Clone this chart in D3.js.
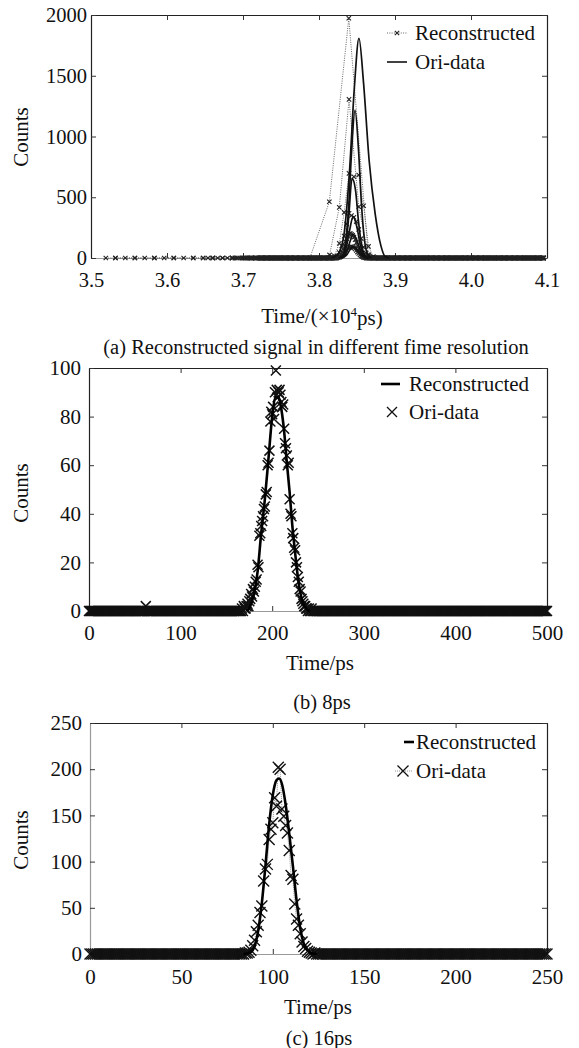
<!DOCTYPE html>
<html lang="en">

<head>
  <meta charset="UTF-8" />
  <title>Reconstructed signal</title>
  <script src="https://d3js.org/d3.v7.min.js"></script>
  <style>
    body {
      margin: 0;
      background: #fff;
    }

    svg text {
      font-family: "Liberation Serif", "Times New Roman", serif;
      fill: #111;
    }
  </style>
</head>

<body>
  <script>
    //fonts
    const serif = '"Liberation Serif", "Times New Roman", serif';

    // ---------- panel (a): time in 1e4 ps, several time resolutions ----------
    const aXTicks = [3.5, 3.6, 3.7, 3.8, 3.9, 4.0, 4.1];
    const aYTicks = [0, 500, 1000, 1500, 2000];
    const aResolutions = [256, 128, 64, 32, 16, 8]; // ps per bin
    const aBinStart = [3.5320, 3.5195, 3.6475, 3.6859, 3.7003, 3.7203]; // first bin of each resolution
    const aBinEnd = 4.0955;

    // reconstructed (dotted line with x), only the part around the peak; other bins are 0
    const aRec256 = [[3.7880, 0], [3.8136, 463], [3.8392, 1973], [3.8648, 28], [3.8904, 0]];
    const aRec128 = [[3.8011, 0], [3.8139, 25], [3.8267, 417], [3.8395, 1306], [3.8523, 422], [3.8651, 22], [3.8779, 0]];
    const aRec64 = [[3.8139, 0], [3.8203, 18], [3.8267, 120], [3.8331, 375], [3.8395, 697], [3.8459, 669],
    [3.8523, 683], [3.8587, 430], [3.8651, 95], [3.8715, 12], [3.8779, 0]];
    const aRec32 = [[3.8171, 0], [3.8203, 4], [3.8235, 15], [3.8267, 45], [3.8299, 100], [3.8331, 180], [3.8363, 280],
    [3.8395, 367], [3.8427, 350], [3.8459, 335], [3.8491, 300], [3.8523, 235], [3.8555, 160], [3.8587, 90],
    [3.8619, 40], [3.8651, 14], [3.8683, 4], [3.8715, 0]];
    const aRec16 = [[3.8219, 0], [3.8235, 3], [3.8251, 8], [3.8267, 16], [3.8283, 30], [3.8299, 50], [3.8315, 75],
    [3.8331, 105], [3.8347, 135], [3.8363, 160], [3.8379, 180], [3.8395, 196], [3.8411, 202], [3.8427, 195],
    [3.8443, 186], [3.8459, 172], [3.8475, 150], [3.8491, 126], [3.8507, 100], [3.8523, 76], [3.8539, 52],
    [3.8555, 34], [3.8571, 20], [3.8587, 10], [3.8603, 4], [3.8619, 1], [3.8635, 0]];
    const aRec8 = [[3.8235, 0], [3.8251, 2], [3.8267, 5], [3.8283, 10], [3.8299, 17], [3.8315, 26], [3.8331, 38],
    [3.8347, 52], [3.8363, 66], [3.8379, 78], [3.8395, 87], [3.8411, 92], [3.8427, 93], [3.8443, 90],
    [3.8459, 84], [3.8475, 74], [3.8491, 62], [3.8507, 49], [3.8523, 37], [3.8539, 26], [3.8555, 17],
    [3.8571, 10], [3.8587, 5], [3.8603, 2], [3.8619, 0]];

    // original data (solid curves)
    const aOri256 = [[3.816, 0], [3.824, 25], [3.832, 160], [3.840, 700], [3.8465, 1400], [3.8526, 1808],
    [3.8585, 1450], [3.866, 800], [3.874, 360], [3.8815, 100], [3.887, 12], [3.892, 0]];
    const aOri128 = [[3.826, 0], [3.831, 20], [3.835, 130], [3.839, 420], [3.843, 890], [3.8474, 1218],
    [3.852, 890], [3.856, 430], [3.860, 140], [3.864, 30], [3.869, 0]];
    const aOri64 = [[3.827, 0], [3.831, 15], [3.835, 90], [3.839, 330], [3.8435, 655], [3.848, 560],
    [3.852, 300], [3.856, 110], [3.860, 25], [3.864, 0]];
    const aOri32 = [[3.828, 0], [3.832, 20], [3.836, 90], [3.840, 220], [3.845, 340], [3.850, 250],
    [3.854, 120], [3.858, 40], [3.862, 8], [3.866, 0]];
    const aOri16 = [[3.829, 0], [3.833, 15], [3.837, 60], [3.841, 140], [3.845, 195], [3.849, 160],
    [3.853, 90], [3.857, 35], [3.861, 8], [3.865, 0]];
    const aOri8 = [[3.829, 0], [3.833, 8], [3.837, 30], [3.841, 70], [3.845, 93], [3.849, 78],
    [3.853, 45], [3.857, 18], [3.861, 4], [3.865, 0]];

    // ---------- panel (b): 8ps ----------
    const bXTicks = [0, 100, 200, 300, 400, 500];
    const bYTicks = [0, 20, 40, 60, 80, 100];
    const bBins = [0, 500]; // one bin per unit
    const bOriStart = 166;
    const bOriCounts = [0, 1, 0, 2, 1, 1, 2, 3, 2, 4, 5, 7, 6, 9, 8, 10, 12, 13, 19, 18, 31, 32, 35, 37, 39, 42,
      43, 48, 49, 60, 61, 66, 78, 82, 81, 84, 79, 90, 99, 91, 88, 90, 91, 89, 86, 84, 85, 75, 69, 67, 64, 60, 61,
      46, 40, 39, 32, 30, 26, 25, 20, 18, 14, 12, 9, 8, 5, 4, 3, 2, 2, 1, 1, 0, 1, 0, 0, 1, 0];
    const bOriStray = [[62, 2]];
    const bRecT = [172, 176, 180, 184, 188, 192, 196, 200, 204, 207, 210, 213, 216, 219, 222, 225, 228, 231, 234, 237, 241];
    const bRecCounts = [0, 2, 7, 16, 32, 46, 63, 80, 88, 88, 83, 74, 61, 49, 35, 24, 14, 7, 3, 1, 0];

    // ---------- panel (c): 16ps ----------
    const cXTicks = [0, 50, 100, 150, 200, 250];
    const cYTicks = [0, 50, 100, 150, 200, 250];
    const cBins = [0, 250];
    const cOriStart = 84;
    const cOriCounts = [0, 1, 1, 2, 4, 9, 15, 24, 31, 45, 52, 79, 92, 97, 124, 135, 142, 169, 160, 202, 200, 157,
      149, 139, 131, 112, 85, 81, 54, 38, 31, 22, 13, 8, 6, 3, 2, 1, 0, 1];
    const cRecT = [84, 86, 88, 90, 92, 94, 96, 98, 100, 102, 103.5, 105, 107, 109, 111, 113, 115, 117, 119, 121, 124];
    const cRecCounts = [0, 0.5, 2, 8, 25, 55, 96, 140, 172, 188, 190, 184, 162, 130, 95, 58, 28, 11, 4, 1, 0];

    //helpers
    const cross = s => `M${-s},${-s}L${s},${s}M${-s},${s}L${s},${-s}`;

    // typed peak + zero-count bins on the series' own time grid
    function withZeroBins(peak, start, end, step, extra = []) {
      const lo = d3.min(peak, d => d[0]), hi = d3.max(peak, d => d[0]);
      const taken = new Set(extra.map(d => d[0]));
      const zeros = d3.range(start, end + step / 2, step)
        .filter(t => (t < lo - step / 2 || t > hi + step / 2) && !taken.has(Math.round(t)))
        .map(t => [t, 0]);
      return zeros.concat(peak, extra).sort((a, b) => a[0] - b[0]);
    }

    const svg = d3.select('body').append('svg')
      .attr('width', 579)
      .attr('height', 1048);

    //frame with inward ticks on all four sides
    function frame(x, y, o) {
      const [x0, x1] = x.range(), [y0, y1] = y.range();
      const g = svg.append('g');
      const style = (sel, col) => {
        sel.attr('font-size', o.fontSize).attr('font-family', serif).attr('color', '#222');
        sel.select('.domain').attr('stroke', col).attr('stroke-width', 1.2);
        sel.selectAll('.tick line').attr('stroke', '#333');
      };
      g.append('g').attr('transform', `translate(0,${y0})`)
        .call(d3.axisBottom(x).tickValues(o.xTicks).tickFormat(o.xFormat).tickSizeInner(-5).tickSizeOuter(0).tickPadding(o.xPad))
        .call(style, '#999');
      g.append('g').attr('transform', `translate(0,${y1})`)
        .call(d3.axisTop(x).tickValues(o.xTicks).tickFormat('').tickSizeInner(-5).tickSizeOuter(0))
        .call(style, '#222');
      g.append('g').attr('transform', `translate(${x0},0)`)
        .call(d3.axisLeft(y).tickValues(o.yTicks).tickFormat(d3.format('d')).tickSizeInner(-5).tickSizeOuter(0).tickPadding(o.yPad))
        .call(style, o.leftColor);
      g.append('g').attr('transform', `translate(${x1},0)`)
        .call(d3.axisRight(y).tickValues(o.yTicks).tickFormat('').tickSizeInner(-5).tickSizeOuter(0))
        .call(style, '#222');

      svg.append('text')
        .attr('transform', `translate(21,${o.countsY}) rotate(-90)`)
        .attr('text-anchor', 'middle').attr('dy', '0.35em')
        .attr('font-size', 21)
        .text('Counts');
      return g;
    }

    function markers(pts, x, y, size, color, width) {
      svg.append('g').selectAll('path')
        .data(pts)
        .join('path')
        .attr('transform', d => `translate(${x(d[0])},${y(d[1])})`)
        .attr('d', cross(size))
        .attr('fill', 'none')
        .attr('stroke', color)
        .attr('stroke-width', width);
    }

    function line(pts, x, y, curve) {
      return d3.line().x(d => x(d[0])).y(d => y(d[1])).curve(curve)(pts);
    }

    function label(txt, x, y, size, anchor = 'middle') {
      return svg.append('text')
        .attr('x', x).attr('y', y)
        .attr('dy', '0.35em')
        .attr('text-anchor', anchor)
        .attr('font-size', size)
        .text(txt);
    }

    // ===================== panel (a) =====================
    {
      const x = d3.scaleLinear().domain([3.5, 4.1]).range([91, 547]);
      const y = d3.scaleLinear().domain([0, 2000]).range([258, 15]);
      frame(x, y, { xTicks: aXTicks, yTicks: aYTicks, xFormat: d3.format('.1f'), xPad: 14, yPad: 4, fontSize: 20.5, leftColor: '#222', countsY: 137 });

      const recs = [aRec256, aRec128, aRec64, aRec32, aRec16, aRec8];
      const oris = [aOri256, aOri128, aOri64, aOri32, aOri16, aOri8];

      recs.forEach((rec, i) => {
        const full = withZeroBins(rec, aBinStart[i], aBinEnd, aResolutions[i] / 10000);
        svg.append('path')
          .attr('d', line(full, x, y, d3.curveLinear))
          .attr('fill', 'none')
          .attr('stroke', '#555')
          .attr('stroke-width', 0.9)
          .attr('stroke-dasharray', '1,1.3');
        markers(full, x, y, 2.2, '#222', 1.1);
      });

      oris.forEach(ori => {
        svg.append('path')
          .attr('d', line(ori, x, y, d3.curveMonotoneX))
          .attr('fill', 'none')
          .attr('stroke', '#111')
          .attr('stroke-width', 1.7);
      });

      //legend
      svg.append('line').attr('x1', 387).attr('x2', 407).attr('y1', 33).attr('y2', 33)
        .attr('stroke', '#555').attr('stroke-width', 0.9).attr('stroke-dasharray', '1,1.3');
      svg.append('path').attr('transform', 'translate(397,33)').attr('d', cross(2.2))
        .attr('stroke', '#222').attr('stroke-width', 1.1);
      label('Reconstructed', 415, 33, 21, 'start');
      svg.append('line').attr('x1', 387).attr('x2', 407).attr('y1', 62).attr('y2', 62)
        .attr('stroke', '#111').attr('stroke-width', 1.6);
      label('Ori-data', 415, 62, 21, 'start');

      const t = label('Time/(×10', 322, 316, 21);
      t.append('tspan').attr('font-size', 13).attr('dy', '-0.55em').text('4');
      t.append('tspan').attr('dy', '0.4em').text('ps)');
      label('(a) Reconstructed signal in different fime resolution', 316, 347, 20.5);
    }

    // ===================== panel (b) =====================
    {
      const x = d3.scaleLinear().domain([0, 500]).range([89, 547]);
      const y = d3.scaleLinear().domain([0, 100]).range([611, 368]);
      frame(x, y, { xTicks: bXTicks, yTicks: bYTicks, xFormat: d3.format('d'), xPad: 14, yPad: 8, fontSize: 21, leftColor: '#222', countsY: 493 });

      const peak = bOriCounts.map((c, i) => [bOriStart + i, c]);
      const ori = withZeroBins(peak, bBins[0], bBins[1], 1, bOriStray);
      markers(ori, x, y, 5, '#111', 1.5);

      svg.append('path')
        .attr('d', line(bRecT.map((t, i) => [t, bRecCounts[i]]), x, y, d3.curveMonotoneX))
        .attr('fill', 'none')
        .attr('stroke', '#000')
        .attr('stroke-width', 2.6);

      svg.append('line').attr('x1', 381).attr('x2', 400).attr('y1', 384).attr('y2', 384)
        .attr('stroke', '#000').attr('stroke-width', 2.6);
      label('Reconstructed', 409, 384, 21, 'start');
      svg.append('path').attr('transform', 'translate(392,412)').attr('d', cross(5))
        .attr('stroke', '#111').attr('stroke-width', 1.3);
      label('Ori-data', 409, 412, 21, 'start');

      label('Time/ps', 320, 663, 21);
      label('(b) 8ps', 322, 702, 20.5);
    }

    // ===================== panel (c) =====================
    {
      const x = d3.scaleLinear().domain([0, 250]).range([90, 547]);
      const y = d3.scaleLinear().domain([0, 250]).range([954, 723]);
      frame(x, y, { xTicks: cXTicks, yTicks: cYTicks, xFormat: d3.format('d'), xPad: 15, yPad: 8, fontSize: 21, leftColor: '#999', countsY: 840 });

      const peak = cOriCounts.map((c, i) => [cOriStart + i, c]);
      const ori = withZeroBins(peak, cBins[0], cBins[1], 1);
      svg.append('path')
        .attr('d', line(ori, x, y, d3.curveLinear))
        .attr('fill', 'none')
        .attr('stroke', '#777')
        .attr('stroke-width', 0.8)
        .attr('stroke-dasharray', '1,1');
      markers(ori, x, y, 5.5, '#111', 1.4);

      svg.append('path')
        .attr('d', line(cRecT.map((t, i) => [t, cRecCounts[i]]), x, y, d3.curveMonotoneX))
        .attr('fill', 'none')
        .attr('stroke', '#000')
        .attr('stroke-width', 2.6);

      svg.append('line').attr('x1', 404).attr('x2', 414).attr('y1', 742).attr('y2', 742)
        .attr('stroke', '#000').attr('stroke-width', 2.6);
      label('Reconstructed', 416, 742, 21, 'start');
      svg.append('line').attr('x1', 395).attr('x2', 412).attr('y1', 771).attr('y2', 771)
        .attr('stroke', '#777').attr('stroke-width', 0.8).attr('stroke-dasharray', '1,1');
      svg.append('path').attr('transform', 'translate(403,771)').attr('d', cross(5.5))
        .attr('stroke', '#111').attr('stroke-width', 1.3);
      label('Ori-data', 416, 771, 21, 'start');

      label('Time/ps', 318, 1007, 21);
      label('(c) 16ps', 319, 1038, 20.5);
    }
  </script>
</body>

</html>
